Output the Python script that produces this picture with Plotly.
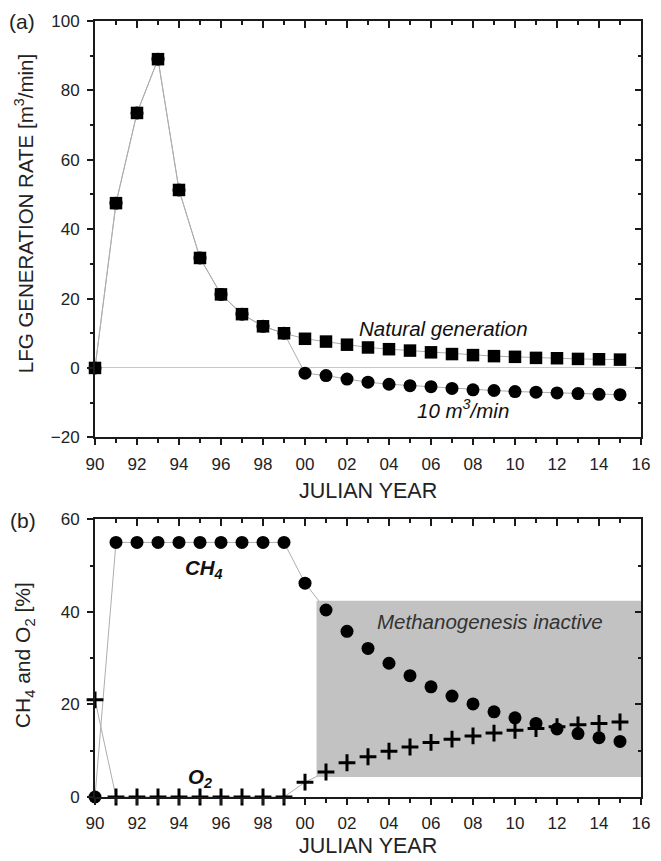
import plotly.graph_objects as go

# ---------------- data ----------------
years = list(range(1990, 2016))
tick_years = list(range(1990, 2017, 2))
tick_text = [f"{y % 100:02d}" for y in tick_years]

natural_gen = [0, 47.5, 73.5, 89, 51.3, 31.7, 21.2, 15.5, 12, 10,
               8.4, 7.6, 6.7, 5.9, 5.4, 5.0, 4.5, 4.0, 3.7, 3.4,
               3.2, 2.9, 2.8, 2.6, 2.5, 2.4]
extract_10 = [0, 47.5, 73.5, 89, 51.3, 31.7, 21.2, 15.5, 12, 10,
              -1.5, -2.2, -3.2, -4.1, -4.7, -5.1, -5.4, -5.9, -6.3, -6.5,
              -6.8, -7.0, -7.2, -7.4, -7.6, -7.7]

ch4 = [0, 55, 55, 55, 55, 55, 55, 55, 55, 55,
       46.2, 40.4, 35.8, 32.1, 28.9, 26.2, 23.8, 21.8, 20.1, 18.4,
       17.1, 15.9, 14.7, 13.7, 12.8, 12.0]
o2 = [21, 0, 0, 0, 0, 0, 0, 0, 0, 0,
      3.2, 5.4, 7.4, 8.7, 9.9, 10.8, 11.8, 12.5, 13.2, 13.8,
      14.4, 14.8, 15.2, 15.6, 15.9, 16.2]

# inactive-methanogenesis region (data coordinates)
inactive_x = [2000.55, 2016]
inactive_y = [4.3, 42.4]

# ---------------- style ----------------
FONT = "Arial, Liberation Sans, sans-serif"
LINE_GRAY = "#adadad"
AX = "#1a1a1a"
TXT = "#222222"
TICK_SIZE = 17

fig = go.Figure()

# ---- panel (a) ----
fig.add_trace(go.Scatter(
    x=years, y=extract_10, mode="lines+markers", xaxis="x", yaxis="y",
    line=dict(color=LINE_GRAY, width=1),
    marker=dict(symbol="circle", size=13, color="black"),
    cliponaxis=False, showlegend=False))
fig.add_trace(go.Scatter(
    x=years, y=natural_gen, mode="lines+markers", xaxis="x", yaxis="y",
    line=dict(color=LINE_GRAY, width=1),
    marker=dict(symbol="square", size=12.5, color="black"),
    cliponaxis=False, showlegend=False))

# ---- panel (b) ----
fig.add_trace(go.Scatter(
    x=years[:12], y=ch4[:12], mode="lines", xaxis="x2", yaxis="y2",
    line=dict(color=LINE_GRAY, width=1), hoverinfo="skip", showlegend=False))
fig.add_trace(go.Scatter(
    x=years[:12], y=o2[:12], mode="lines", xaxis="x2", yaxis="y2",
    line=dict(color=LINE_GRAY, width=1), hoverinfo="skip", showlegend=False))

# region drawn as filled trace so it sits above the connecting lines
fig.add_trace(go.Scatter(
    x=[inactive_x[0], inactive_x[1], inactive_x[1], inactive_x[0], inactive_x[0]],
    y=[inactive_y[0], inactive_y[0], inactive_y[1], inactive_y[1], inactive_y[0]],
    xaxis="x2", yaxis="y2", mode="none", fill="toself",
    fillcolor="#c2c2c2", hoverinfo="skip", showlegend=False))

fig.add_trace(go.Scatter(
    x=years, y=ch4, mode="markers", xaxis="x2", yaxis="y2",
    marker=dict(symbol="circle", size=13, color="black"),
    cliponaxis=False, showlegend=False))
fig.add_trace(go.Scatter(
    x=years, y=o2, mode="markers", xaxis="x2", yaxis="y2",
    marker=dict(symbol="cross-thin", size=12, line=dict(color="black", width=3)),
    cliponaxis=False, showlegend=False))

# ---------------- axes ----------------
XR = [1990, 2016]
TOP_DOM = [0.4635, 1.0]
BOT_DOM = [0.0, 0.3579]

def xax(anchor, side="bottom", overlay=None, labels=True):
    out = side == "bottom"
    d = dict(range=XR, tickmode="array", tickvals=tick_years, ticktext=tick_text,
             showline=True, linecolor=AX, linewidth=2,
             ticks="outside" if out else "inside",
             ticklen=6 if out else 7, tickwidth=2, tickcolor=AX,
             minor=dict(dtick=1, tick0=1990, ticklen=4, tickwidth=2, tickcolor=AX,
                        ticks="outside" if out else "inside"),
             showgrid=False, zeroline=False, anchor=anchor, side=side,
             showticklabels=labels,
             tickfont=dict(family=FONT, size=TICK_SIZE, color=TXT),
             ticklabelstandoff=4, fixedrange=True)
    if overlay:
        d["overlaying"] = overlay
    return d

def yax(anchor, rng, dom, side="left", overlay=None, labels=True, zero=False):
    out = side == "left"
    d = dict(range=rng, dtick=20, tick0=0, domain=dom,
             showline=True, linecolor=AX, linewidth=2,
             ticks="outside" if out else "inside",
             ticklen=6, tickwidth=2, tickcolor=AX,
             minor=dict(dtick=10, ticklen=3, tickwidth=2, tickcolor=AX,
                        ticks="outside" if out else "inside"),
             showgrid=False, zeroline=zero, zerolinecolor="#c8c8c8", zerolinewidth=1,
             anchor=anchor, side=side, showticklabels=labels,
             tickfont=dict(family=FONT, size=TICK_SIZE, color=TXT),
             ticklabelstandoff=4, fixedrange=True)
    if overlay:
        d["overlaying"] = overlay
    return d

fig.update_layout(
    width=661, height=861,
    margin=dict(l=95, r=11, t=21, b=64),
    paper_bgcolor="white", plot_bgcolor="white",
    font=dict(family=FONT, color=TXT),
    xaxis=xax("y"),
    yaxis=yax("x", [-20, 100], TOP_DOM, zero=True),
    xaxis2=xax("y2"),
    yaxis2=yax("x2", [0, 60], BOT_DOM),
    xaxis3=xax("y", side="top", overlay="x", labels=False),
    yaxis3=yax("x", [-20, 100], TOP_DOM, side="right", overlay="y", labels=False),
    xaxis4=xax("y2", side="top", overlay="x2", labels=False),
    yaxis4=yax("x2", [0, 60], BOT_DOM, side="right", overlay="y2", labels=False),
)

# dummy traces so overlay axes are drawn
for xa, ya in (("x3", "y3"), ("x4", "y4")):
    fig.add_trace(go.Scatter(x=[None], y=[None], xaxis=xa, yaxis=ya,
                             showlegend=False, hoverinfo="skip"))

def px_to_paper_x(px):
    return (px - 95) / 555

def px_to_paper_y(py):
    return (861 - 64 - py) / 776

annos = [
    dict(text="(a)", x=px_to_paper_x(21), y=px_to_paper_y(21), size=21),
    dict(text="(b)", x=px_to_paper_x(22), y=px_to_paper_y(520), size=21),
    dict(text="LFG GENERATION RATE [m<sup>3</sup>/min]", x=px_to_paper_x(23),
         y=px_to_paper_y(214), size=20.5, angle=-90),
    dict(text="CH<sub>4</sub> and O<sub>2</sub> [%]", x=px_to_paper_x(23),
         y=px_to_paper_y(655), size=21, angle=-90),
    dict(text="JULIAN YEAR", x=0.5, y=px_to_paper_y(491), size=21.5),
    dict(text="JULIAN YEAR", x=0.5, y=px_to_paper_y(846), size=21.5),
]
for a in annos:
    fig.add_annotation(text=a["text"], x=a["x"], y=a["y"], xref="paper", yref="paper",
                       showarrow=False, textangle=a.get("angle", 0),
                       xanchor="center", yanchor="middle",
                       font=dict(family=FONT, size=a["size"], color=TXT))

data_annos = [
    dict(text="<i>Natural generation</i>", x=2006.6, y=11.5, xr="x", yr="y", color="#111"),
    dict(text="<i>10 m<sup>3</sup>/min</i>", x=2007.5, y=-11.9, xr="x", yr="y", color="#111"),
    dict(text="<b><i>CH<sub>4</sub></i></b>", x=1995.2, y=49.3, xr="x2", yr="y2", color="#111"),
    dict(text="<b><i>O<sub>2</sub></i></b>", x=1995.0, y=4.0, xr="x2", yr="y2", color="#111"),
    dict(text="<i>Methanogenesis inactive</i>", x=2008.8, y=38.0, xr="x2", yr="y2", color="#333"),
]
for a in data_annos:
    fig.add_annotation(text=a["text"], x=a["x"], y=a["y"], xref=a["xr"], yref=a["yr"],
                       showarrow=False, xanchor="center", yanchor="middle",
                       font=dict(family=FONT, size=20.5, color=a["color"]))

fig.write_html("out.html")
